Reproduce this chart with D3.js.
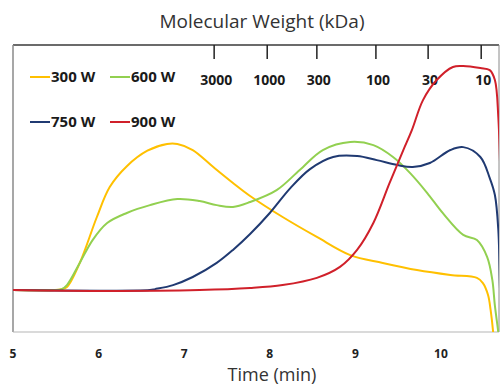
<!DOCTYPE html>
<html>
<head>
<meta charset="utf-8">
<script src="https://cdn.jsdelivr.net/npm/d3@7"></script>
<style>
  body { margin: 0; background: #fff; }
  svg { display: block; }
</style>
</head>
<body>
<div id="chart"></div>
<script>
// SEC traces (detector response, arbitrary units) vs elution time
var seriesNames = ["300 W", "600 W", "750 W", "900 W"];
var seriesColors = ["#FFC000", "#92D050", "#203A72", "#D0202A"];

var time300 = [5.0, 5.49, 5.57, 5.63, 5.78, 5.98, 6.13, 6.33, 6.57, 6.80, 6.92, 7.10, 7.34, 7.57, 7.77, 8.15, 8.55, 8.94, 9.32, 9.72, 10.11, 10.42, 10.49, 10.55, 10.58, 10.61, 10.63];
var val300  = [0, 0, 0.004, 0.013, 0.121, 0.326, 0.46, 0.553, 0.622, 0.652, 0.652, 0.625, 0.549, 0.478, 0.42, 0.326, 0.237, 0.156, 0.121, 0.089, 0.067, 0.054, 0.031, -0.022, -0.089, -0.19, -0.3];

var time600 = [5.0, 5.49, 5.57, 5.63, 5.78, 5.93, 6.10, 6.33, 6.60, 6.92, 7.18, 7.38, 7.57, 7.77, 8.08, 8.35, 8.62, 8.94, 9.21, 9.44, 9.64, 9.84, 10.02, 10.26, 10.42, 10.54, 10.60, 10.63, 10.67, 10.70];
var val600  = [0, 0, 0.004, 0.022, 0.121, 0.223, 0.299, 0.344, 0.379, 0.406, 0.397, 0.379, 0.371, 0.393, 0.446, 0.536, 0.625, 0.661, 0.647, 0.594, 0.522, 0.433, 0.344, 0.246, 0.223, 0.147, 0.045, -0.07, -0.19, -0.3];

var time750 = [5.0, 6.60, 6.66, 6.87, 7.10, 7.38, 7.57, 7.77, 8.00, 8.24, 8.47, 8.74, 9.02, 9.25, 9.49, 9.67, 9.87, 10.11, 10.26, 10.46, 10.57, 10.63, 10.67, 10.69, 10.71];
var val750  = [0, 0, 0.004, 0.022, 0.058, 0.121, 0.179, 0.25, 0.344, 0.455, 0.54, 0.594, 0.598, 0.58, 0.558, 0.549, 0.567, 0.625, 0.638, 0.594, 0.5, 0.424, 0.268, 0.0, -0.3];

var time900 = [5.0, 6.02, 7.18, 7.77, 8.15, 8.55, 8.82, 9.02, 9.21, 9.40, 9.56, 9.66, 9.79, 9.95, 10.14, 10.26, 10.46, 10.57, 10.63, 10.67, 10.70];
var val900  = [0, -0.004, 0, 0.009, 0.022, 0.054, 0.103, 0.179, 0.299, 0.478, 0.625, 0.714, 0.848, 0.9375, 0.996, 1.0, 0.991, 0.982, 0.9375, 0.772, 0.4];

var timeTicks = [5, 6, 7, 8, 9, 10];
// molecular weight calibration: kDa labels and the elution time they sit at
var mwTicks = [3000, 1000, 300, 100, 30, 10];
var mwTickTimes = [7.35, 7.97, 8.55, 9.24, 9.85, 10.47];

var series = [
  { name: seriesNames[0], color: seriesColors[0], t: time300, v: val300 },
  { name: seriesNames[1], color: seriesColors[1], t: time600, v: val600 },
  { name: seriesNames[2], color: seriesColors[2], t: time750, v: val750 },
  { name: seriesNames[3], color: seriesColors[3], t: time900, v: val900 }
];

var W = 501, H = 387;
var plot = { left: 13, top: 45, right: 499, bottom: 332 };

var svg = d3.select("#chart").append("svg")
  .attr("width", W).attr("height", H);

var x = d3.scaleLinear().domain([5, 10.678]).range([plot.left, plot.right]);
var y = d3.scaleLinear().domain([-0.1875, 1.094]).range([plot.bottom, plot.top]);

svg.append("clipPath").attr("id", "clip")
  .append("rect")
  .attr("x", plot.left).attr("y", plot.top)
  .attr("width", plot.right - plot.left).attr("height", plot.bottom - plot.top);

// frame
svg.append("line").attr("x1", plot.left).attr("x2", plot.right).attr("y1", plot.top).attr("y2", plot.top)
  .attr("stroke", "#3a3a3a").attr("stroke-width", 1.5);
svg.append("line").attr("x1", plot.left).attr("x2", plot.left).attr("y1", plot.top).attr("y2", plot.bottom)
  .attr("stroke", "#8a8a8a").attr("stroke-width", 1.5);
svg.append("line").attr("x1", plot.left).attr("x2", plot.right).attr("y1", plot.bottom).attr("y2", plot.bottom)
  .attr("stroke", "#b5b5b5").attr("stroke-width", 1);
svg.append("line").attr("x1", plot.right).attr("x2", plot.right).attr("y1", plot.top).attr("y2", plot.bottom)
  .attr("stroke", "#8a8a8a").attr("stroke-width", 1);

// top molecular weight axis: tick marks hang down from the top border
var mw = svg.append("g");
mw.selectAll("line").data(mwTicks).join("line")
  .attr("x1", (d, i) => x(mwTickTimes[i])).attr("x2", (d, i) => x(mwTickTimes[i]))
  .attr("y1", plot.top).attr("y2", plot.top + 14)
  .attr("stroke", "#222").attr("stroke-width", 1.5);
mw.selectAll("text").data(mwTicks).join("text")
  .attr("x", (d, i) => x(mwTickTimes[i]) + 2).attr("y", 85)
  .attr("text-anchor", "middle")
  .style("font", "bold 14px 'Open Sans', sans-serif")
  .attr("fill", "#1a1a1a")
  .text(d => d);

svg.append("text")
  .attr("x", 262).attr("y", 28)
  .attr("text-anchor", "middle")
  .style("font", "19px 'Open Sans', sans-serif")
  .attr("fill", "#333")
  .text("Molecular Weight (kDa)");

// curves
var line = d3.line()
  .x(d => x(d[0])).y(d => y(d[1]))
  .curve(d3.curveCatmullRom.alpha(0.5));

svg.append("g").attr("clip-path", "url(#clip)")
  .selectAll("path").data(series).join("path")
  .attr("d", s => line(s.t.map((t, i) => [t, s.v[i]])))
  .attr("fill", "none")
  .attr("stroke", s => s.color)
  .attr("stroke-width", 2);

// bottom time axis labels (no tick marks)
svg.append("g").selectAll("text").data(timeTicks).join("text")
  .attr("x", d => x(d)).attr("y", 358)
  .attr("text-anchor", "middle")
  .style("font", "bold 12px 'Open Sans', sans-serif")
  .attr("fill", "#222")
  .text(d => d);

svg.append("text")
  .attr("x", 272).attr("y", 381)
  .attr("text-anchor", "middle")
  .style("font", "18px 'Open Sans', sans-serif")
  .attr("fill", "#333")
  .text("Time (min)");

// legend, two rows
var legPos = [[30, 77], [110, 77], [30, 122], [110, 122]];
var leg = svg.append("g").selectAll("g").data(series).join("g")
  .attr("transform", (d, i) => `translate(${legPos[i][0]},${legPos[i][1]})`);
leg.append("line").attr("x1", 0).attr("x2", 20).attr("y1", 0).attr("y2", 0)
  .attr("stroke", d => d.color).attr("stroke-width", 2);
leg.append("text").attr("x", 21).attr("y", 5)
  .style("font", "bold 15px 'Open Sans', sans-serif")
  .attr("fill", "#1a1a1a")
  .text(d => d.name);
</script>
</body>
</html>
